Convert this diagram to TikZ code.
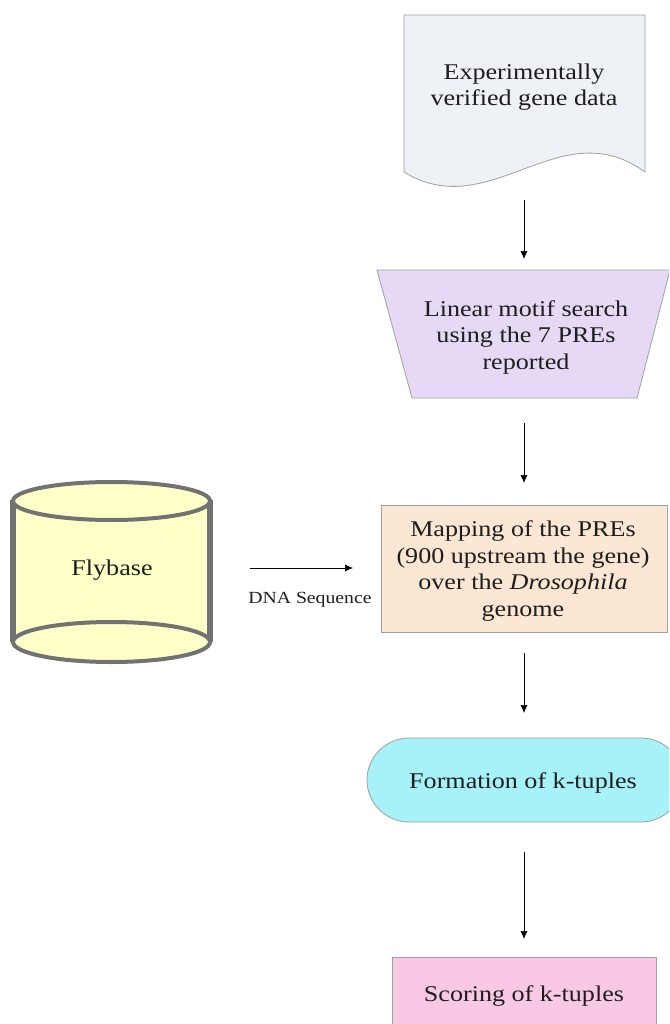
\documentclass[tikz,border=0pt]{standalone}
\usepackage{fontspec}
\setmainfont{Liberation Serif}
\newfontfamily\dfont[FakeStretch=1.16]{Liberation Serif}
\usetikzlibrary{arrows.meta}
\definecolor{docfill}{HTML}{EEF1F6}
\definecolor{trapfill}{HTML}{E6D9F6}
\definecolor{mapfill}{HTML}{FCE6D4}
\definecolor{formfill}{HTML}{A6F2F8}
\definecolor{scorefill}{HTML}{F9C8E5}
\definecolor{cylfill}{HTML}{FFFFC8}
\definecolor{cylline}{HTML}{727272}
\definecolor{boxline}{HTML}{A0A0A0}
\definecolor{txt}{HTML}{1E1E1E}
\tikzset{
  lbl/.style={text=txt, align=center, font=\dfont\fontsize{22.5}{26.5}\selectfont, inner sep=0pt},
  small/.style={text=txt, align=center, font=\dfont\fontsize{17}{20}\selectfont, inner sep=0pt},
  shapeline/.style={draw=boxline, line width=0.8pt},
  arr/.style={draw=black, line width=0.7pt, -{Latex[length=8pt,width=7pt]}}
}
\begin{document}
\begin{tikzpicture}[x=1pt,y=-1pt]
\useasboundingbox (0,0) rectangle (669,1024);
\clip (0,0) rectangle (669,1024);
% document shape
\path[shapeline, fill=docfill] (404,15) -- (645,15) -- (645,172)
  .. controls (560,110) and (490,225) .. (404,172) -- cycle;
\node[lbl] (doc) at (524,87) {Experimentally\\verified gene data};
% trapezium
\path[shapeline, fill=trapfill] (377,270) -- (670,270) -- (637,398) -- (412,398) -- cycle;
\node[lbl] (trap) at (526,337) {Linear motif search\\using the 7 PREs\\reported};
% mapping rectangle
\path[shapeline, fill=mapfill] (381,505) rectangle (667,632);
\node[lbl] (map) at (523,571) {Mapping of the PREs\\(900 upstream the gene)\\over the \textit{Drosophila}\\genome};
% formation stadium
\path[shapeline, fill=formfill, rounded corners=42pt] (367,738) rectangle (683,822);
\node[lbl] (form) at (523,783) {Formation of k-tuples};
% scoring rectangle
\path[shapeline, fill=scorefill] (392,957) rectangle (656,1034);
\node[lbl] (score) at (524,996) {Scoring of k-tuples};
% cylinder
\path[fill=cylfill] (13,500) -- (13,642) arc[start angle=180, end angle=360, x radius=98.5, y radius=20] -- (210,500) -- cycle;
\draw[draw=cylline, line width=5.5pt] (13,500) -- (13,642);
\draw[draw=cylline, line width=5.5pt] (210,500) -- (210,642);
\path[draw=cylline, line width=4pt, fill=cylfill] (111.5,642) ellipse[x radius=98.5, y radius=20];
\path[draw=cylline, line width=4pt, fill=cylfill] (111.5,501) ellipse[x radius=98.5, y radius=19];
\node[lbl] (fly) at (112,570) {Flybase};
% arrows
\coordinate (a1s) at (524,200); \coordinate (a1e) at (524,259);
\coordinate (a2s) at (524,423); \coordinate (a2e) at (524,483);
\coordinate (a3s) at (524,653); \coordinate (a3e) at (524,713);
\coordinate (a4s) at (524,852); \coordinate (a4e) at (524,939);
\coordinate (a5s) at (250,568); \coordinate (a5e) at (353,568);
\draw[arr] (a1s) -- (a1e);
\draw[arr] (a2s) -- (a2e);
\draw[arr] (a3s) -- (a3e);
\draw[arr] (a4s) -- (a4e);
\draw[arr] (a5s) -- (a5e);
\node[small] (dna) at (310,600) {DNA Sequence};
\end{tikzpicture}
\end{document}
